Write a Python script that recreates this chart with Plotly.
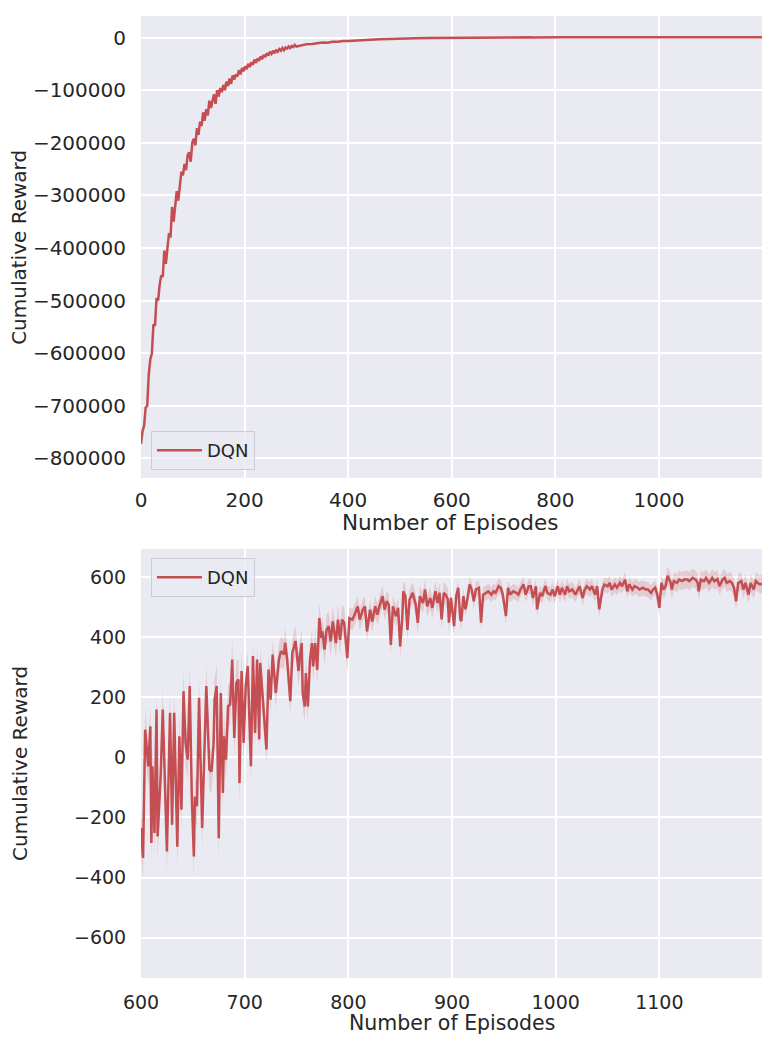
import numpy as np
import plotly.graph_objects as go
from plotly.subplots import make_subplots

# first part of the run, reward in thousands (every 3 episodes up to 300)
early_ep = list(range(0, 301, 3))
early_k = [-772, -748, -738, -703, -700, -640, -612, -600, -545, -548,
           -495, -500, -470, -452, -455, -405, -430, -392, -372, -380,
           -322, -350, -318, -292, -310, -284, -255, -262, -240, -252,
           -224, -218, -236, -200, -192, -205, -172, -185, -160, -168,
           -142, -158, -136, -148, -120, -134, -118, -108, -126, -100,
           -112, -96, -104, -90, -100, -84, -92, -78, -88, -72,
           -80, -70, -74, -62, -70, -58, -64, -55, -60, -50,
           -56, -47, -52, -42, -48, -40, -44, -36, -41, -33,
           -37, -30, -34, -27, -31, -25, -30, -23, -27, -22,
           -25, -20, -24, -19, -21, -17, -20, -16, -18, -14,
           -17]
tail_ep = [310, 320, 330, 340, 350, 360, 370, 380, 390, 400,
           420, 440, 460, 480, 500, 530, 560, 590]
tail_k = [-14.5, -12.5, -12, -10.5, -9.5, -9.8, -7.8, -8, -6.4, -6.6,
          -5, -4.2, -3.2, -2.6, -1.8, -1.3, -0.9, -0.6]

# episodes 600-1199 (shown zoomed in the lower panel)
late_ep = [600, 602, 604, 607, 609, 610, 611, 613, 615, 616,
           619, 621, 625, 628, 630, 632, 635, 637, 639, 641,
           643, 645, 647, 649, 651, 652, 654, 656, 659, 661,
           663, 666, 668, 670, 671, 673, 675, 677, 679, 680,
           682, 684, 686, 688, 690, 692, 694, 695, 697, 699,
           701, 703, 706, 708, 710, 712, 714, 715, 718, 721,
           723, 725, 727, 730, 733, 735, 738, 739, 741, 744,
           746, 749, 752, 753, 755, 756, 758, 759, 761, 763,
           765, 766, 768, 770, 772, 774, 775, 777, 779, 781,
           783, 785, 788, 790, 792, 794, 796, 799, 801, 804,
           806, 809, 811, 814, 816, 818, 821, 823, 826, 828,
           830, 833, 835, 837, 839, 841, 843, 846, 848, 850,
           852, 853, 855, 857, 859, 862, 865, 867, 869, 872,
           874, 876, 879, 881, 884, 886, 888, 890, 892, 894,
           896, 897, 899, 901, 902, 904, 906, 908, 909, 911,
           913, 915, 917, 919, 921, 923, 926, 928, 930, 933,
           935, 938, 940, 942, 945, 947, 949, 952, 954, 956,
           959, 962, 964, 966, 969, 971, 974, 976, 978, 981,
           982, 985, 987, 990, 992, 995, 997, 999, 1002, 1004,
           1006, 1009, 1011, 1013, 1016, 1019, 1021, 1023, 1026, 1028,
           1030, 1033, 1035, 1038, 1040, 1042, 1045, 1047, 1050, 1052,
           1054, 1057, 1059, 1062, 1064, 1067, 1069, 1071, 1074, 1076,
           1079, 1081, 1084, 1087, 1089, 1092, 1094, 1096, 1098, 1100,
           1102, 1104, 1106, 1108, 1111, 1112, 1114, 1117, 1119, 1122,
           1124, 1127, 1129, 1132, 1135, 1137, 1138, 1140, 1143, 1145,
           1148, 1151, 1153, 1156, 1158, 1161, 1163, 1165, 1168, 1170,
           1172, 1174, 1176, 1179, 1181, 1183, 1186, 1188, 1191, 1193,
           1195, 1197, 1199]
late_reward = [-235, -335, 92, -30, 103, -285, -30, -252, 159, -263,
               -60, 159, -313, 148, -224, 148, -297, 70, -174, 220,
               48, -8, 237, -130, -330, -130, -163, 198, -235, 48,
               237, -41, -47, 42, 192, 237, -269, 214, -119, 70,
               -8, 170, 176, 325, 64, 248, 259, -86, 287, 48,
               237, 303, -30, 337, 81, 325, 59, 314, 153, 26,
               292, 192, 342, 214, 325, 353, 342, 381, 325, 187,
               348, 387, 287, 330, 380, 213, 169, 280, 169, 324,
               380, 302, 380, 291, 463, 397, 419, 358, 424, 436,
               386, 452, 380, 458, 391, 458, 447, 330, 463, 458,
               474, 502, 458, 491, 502, 419, 491, 452, 502, 474,
               502, 536, 491, 519, 508, 374, 502, 469, 497, 369,
               463, 552, 536, 424, 524, 547, 508, 447, 536, 513,
               558, 502, 530, 497, 552, 513, 547, 459, 547, 541,
               525, 448, 530, 448, 436, 536, 564, 459, 453, 536,
               492, 530, 575, 558, 519, 558, 564, 448, 541, 547,
               552, 541, 552, 547, 569, 564, 541, 470, 564, 541,
               552, 547, 541, 558, 575, 541, 569, 569, 530, 569,
               492, 547, 536, 569, 547, 541, 558, 536, 569, 541,
               564, 541, 569, 552, 558, 541, 558, 569, 530, 558,
               569, 558, 569, 541, 569, 492, 558, 575, 569, 580,
               558, 575, 564, 580, 569, 591, 552, 575, 558, 569,
               564, 558, 564, 558, 558, 547, 558, 564, 541, 497,
               580, 558, 569, 604, 580, 558, 586, 580, 591, 586,
               591, 591, 586, 597, 591, 580, 552, 591, 586, 597,
               580, 597, 586, 593, 569, 591, 597, 580, 586, 580,
               564, 519, 580, 586, 558, 580, 541, 580, 558, 586,
               580, 575, 578]

# confidence band half-width per stretch of episodes
band_edges = [600, 700, 800, 900, 1100, 1200]
band_half = [70, 50, 35, 25, 30]

red = "#C44E52"
band_fill = "rgba(196,78,82,0.2)"
ink = "#262626"
font = "DejaVu Sans"

top_x = early_ep + tail_ep + late_ep
top_y = [v * 1000 for v in early_k + tail_k] + late_reward

late = np.array(late_reward, dtype=float)
half = np.array(band_half)[np.searchsorted(band_edges, late_ep, side="right") - 1]
upper = late + half
lower = late - half

fig = make_subplots(rows=2, cols=1)

fig.add_trace(go.Scatter(x=top_x, y=top_y, mode="lines", name="DQN",
                         line=dict(color=red, width=2.5), legend="legend"),
              row=1, col=1)

fig.add_trace(go.Scatter(x=late_ep + late_ep[::-1],
                         y=list(upper) + list(lower[::-1]),
                         fill="toself", fillcolor=band_fill,
                         line=dict(width=0), hoverinfo="skip",
                         showlegend=False),
              row=2, col=1)
fig.add_trace(go.Scatter(x=late_ep, y=late_reward, mode="lines", name="DQN",
                         line=dict(color=red, width=2.5), legend="legend2"),
              row=2, col=1)

axis_common = dict(showgrid=True, gridcolor="white", gridwidth=1.5,
                   zeroline=False, showline=False, ticks="outside",
                   tickcolor="rgba(0,0,0,0)", automargin=False)

fig.update_xaxes(axis_common)
fig.update_yaxes(axis_common)

legend_style = dict(xanchor="left", bgcolor="rgba(234,234,242,0.8)",
                    bordercolor="#CCCCD4", borderwidth=1, itemwidth=45,
                    font=dict(size=18, color=ink, family=font))

# the page body adds an 8px offset, so the figure is 8px smaller than the window
fig.update_layout(
    xaxis=dict(domain=[0, 1], range=[0, 1199], tickvals=[0, 200, 400, 600, 800, 1000],
               ticklen=4, tickfont=dict(size=20, color=ink, family=font)),
    yaxis=dict(domain=[0.5198, 1], range=[-837000, 41000],
               tickvals=[0, -100000, -200000, -300000, -400000, -500000,
                         -600000, -700000, -800000],
               ticktext=["0", "\u2212100000", "\u2212200000", "\u2212300000", "\u2212400000",
                         "\u2212500000", "\u2212600000", "\u2212700000", "\u2212800000"],
               ticklen=10, tickfont=dict(size=20, color=ink, family=font)),
    xaxis2=dict(domain=[0, 1], range=[600, 1199],
                tickvals=[600, 700, 800, 900, 1000, 1100],
                ticklen=7, tickfont=dict(size=19, color=ink, family=font)),
    yaxis2=dict(domain=[0, 0.446], range=[-734, 693],
                tickvals=[600, 400, 200, 0, -200, -400, -600],
                ticktext=["600", "400", "200", "0", "\u2212200", "\u2212400", "\u2212600"],
                ticklen=10, tickfont=dict(size=19, color=ink, family=font)),
    plot_bgcolor="#EAEAF2",
    paper_bgcolor="white",
    width=763, height=1031,
    margin=dict(l=133, r=9, t=8, b=61),
    font=dict(family=font, color=ink),
    legend=dict(x=0.016, y=0.528, yanchor="bottom", **legend_style),
    legend2=dict(x=0.016, y=0.4366, yanchor="top", **legend_style),
    showlegend=True,
)

# axis titles placed like the matplotlib labels
titles = [
    dict(text="Number of Episodes", x=0.498, y=0.474, textangle=0, size=21.5),
    dict(text="Number of Episodes", x=0.5, y=-0.0468, textangle=0, size=20.5),
    dict(text="Cumulative Reward", x=-0.1965, y=0.76, textangle=-90, size=20),
    dict(text="Cumulative Reward", x=-0.195, y=0.2235, textangle=-90, size=20),
]
for t in titles:
    fig.add_annotation(text=t["text"], xref="paper", yref="paper", x=t["x"], y=t["y"],
                       xanchor="center", yanchor="middle", textangle=t["textangle"],
                       showarrow=False, font=dict(size=t["size"], color=ink, family=font))

fig.write_html("out.html")
